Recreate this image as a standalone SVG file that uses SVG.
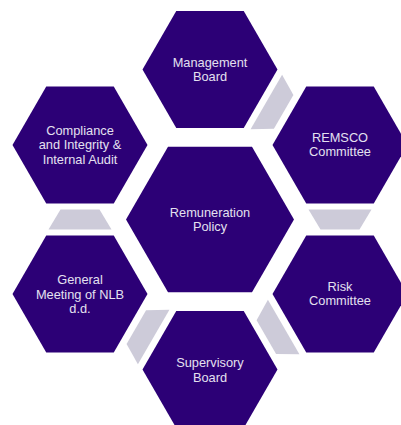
<svg xmlns="http://www.w3.org/2000/svg" xmlns:xlink="http://www.w3.org/1999/xlink" width="401" height="425" viewBox="0 0 401 425">
  <style>
    .hex { fill: #2C0076; }
    .link { fill: #CDCBD9; }
    .label { font-family: "Liberation Sans", Arial, sans-serif; font-size: 12.8px; fill: #E4E0F0; text-anchor: middle; }
  </style>
  <defs>
    <!-- outer hexagon, centred on the origin -->
    <polygon id="hexSmall" points="-67.5,0 -33.75,-58.5 33.75,-58.5 67.5,0 33.75,58.5 -33.75,58.5"/>
    <!-- central hexagon -->
    <polygon id="hexLarge" points="-84,0 -42,-72.75 42,-72.75 84,0 42,72.75 -42,72.75"/>
    <!-- flow link between two neighbouring hexagons; narrow end toward the next one -->
    <polygon id="link" points="60.5,209.5 99.5,209.5 111.5,229.5 48.5,229.5"/>
  </defs>

  <rect width="401" height="425" fill="#FFFFFF"/>

  <g id="connectors" class="link">
    <use xlink:href="#link"/>
    <use xlink:href="#link" transform="rotate(120 210 219.5)"/>
    <use xlink:href="#link" transform="rotate(180 210 219.5)"/>
    <use xlink:href="#link" transform="rotate(-120 210 219.5)"/>
    <use xlink:href="#link" transform="rotate(-60 210 219.5)"/>
  </g>

  <g id="management-board">
    <use xlink:href="#hexSmall" class="hex" x="210" y="69.5"/>
    <text class="label" x="210" y="67">Management</text>
    <text class="label" x="210" y="81.3">Board</text>
  </g>

  <g id="remsco-committee">
    <use xlink:href="#hexSmall" class="hex" x="340" y="145"/>
    <text class="label" x="340" y="142">REMSCO</text>
    <text class="label" x="340" y="156.3">Committee</text>
  </g>

  <g id="risk-committee">
    <use xlink:href="#hexSmall" class="hex" x="340" y="294"/>
    <text class="label" x="340" y="291">Risk</text>
    <text class="label" x="340" y="305.3">Committee</text>
  </g>

  <g id="supervisory-board">
    <use xlink:href="#hexSmall" class="hex" x="210" y="369.5"/>
    <text class="label" x="210" y="367.3">Supervisory</text>
    <text class="label" x="210" y="381.6">Board</text>
  </g>

  <g id="general-meeting">
    <use xlink:href="#hexSmall" class="hex" x="80" y="294"/>
    <text class="label" x="80" y="284.3">General</text>
    <text class="label" x="80" y="298.6">Meeting of NLB</text>
    <text class="label" x="80" y="312.9">d.d.</text>
  </g>

  <g id="compliance-audit">
    <use xlink:href="#hexSmall" class="hex" x="80" y="145"/>
    <text class="label" x="80" y="135">Compliance</text>
    <text class="label" x="80" y="149.3">and Integrity &amp;</text>
    <text class="label" x="80" y="163.6">Internal Audit</text>
  </g>

  <g id="remuneration-policy">
    <use xlink:href="#hexLarge" class="hex" x="210" y="219.5"/>
    <text class="label" x="210" y="216.5">Remuneration</text>
    <text class="label" x="210" y="230.8">Policy</text>
  </g>
</svg>
